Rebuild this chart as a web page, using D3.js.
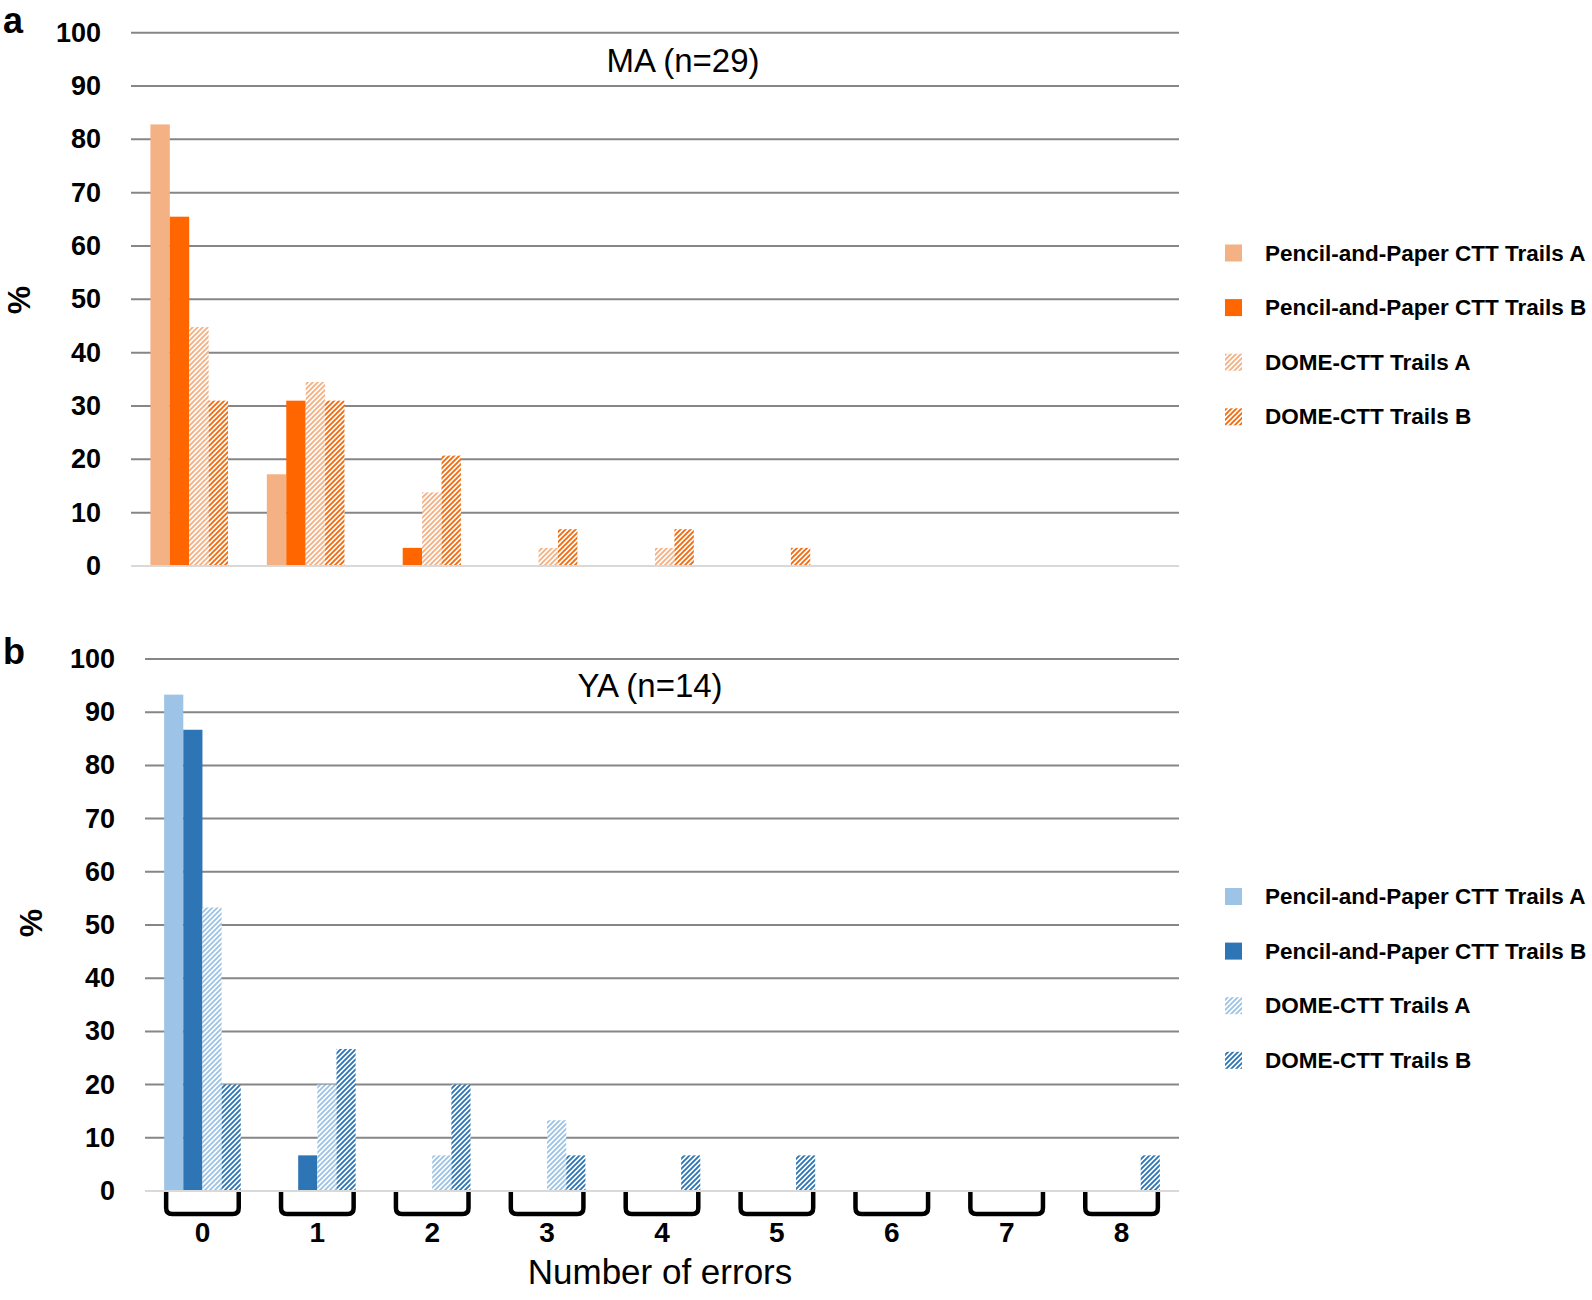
<!DOCTYPE html>
<html><head><meta charset="utf-8">
<script src="https://cdn.jsdelivr.net/npm/d3@7"></script>
<style>body{margin:0;background:#fff} svg{display:block}</style>
</head><body>
<script>
// ---------- DATA ----------
const categories = ["0","1","2","3","4","5","6","7","8"];
const seriesNames = ["Pencil-and-Paper CTT Trails A","Pencil-and-Paper CTT Trails B","DOME-CTT Trails A","DOME-CTT Trails B"];
const yTicks = [0,10,20,30,40,50,60,70,80,90,100];

// MA (n=29)
const maPaperA = [82.8, 17.2, 0, 0, 0, 0, 0, 0, 0];
const maPaperB = [65.5, 31.0, 3.4, 0, 0, 0, 0, 0, 0];
const maDomeA  = [44.8, 34.5, 13.8, 3.4, 3.4, 0, 0, 0, 0];
const maDomeB  = [31.0, 31.0, 20.7, 6.9, 6.9, 3.4, 0, 0, 0];

// YA (n=14)
const yaPaperA = [93.3, 0, 0, 0, 0, 0, 0, 0, 0];
const yaPaperB = [86.7, 6.7, 0, 0, 0, 0, 0, 0, 0];
const yaDomeA  = [53.3, 20.0, 6.7, 13.3, 0, 0, 0, 0, 0];
const yaDomeB  = [20.0, 26.7, 20.0, 6.7, 6.7, 6.7, 0, 0, 6.7];

// ---------- SETUP ----------
const W = 1592, H = 1300;
const svg = d3.select("body").append("svg").attr("width", W).attr("height", H);
const defs = svg.append("defs");
const FONT = "'Liberation Sans', Arial, sans-serif";

function hatch(id, color) {
  const p = defs.append("pattern").attr("id", id)
    .attr("patternUnits", "userSpaceOnUse").attr("width", 5).attr("height", 5);
  p.append("rect").attr("width", 5).attr("height", 5).attr("fill", "#fff");
  p.append("path").attr("d", "M-1,1 L1,-1 M0,5 L5,0 M4,6 L6,4")
    .attr("stroke", color).attr("stroke-width", 1.9);
}
hatch("hLO", "#F4B183");
hatch("hDO", "#F26B0F");
hatch("hLB", "#9DC3E6");
hatch("hDB", "#2E75B6");

const orangeFills = ["#F4B183", "#FF6600", "url(#hLO)", "url(#hDO)"];
const blueFills   = ["#9DC3E6", "#2E75B6", "url(#hLB)", "url(#hDB)"];

function panel(cfg) {
  const g = svg.append("g");
  const x0 = d3.scaleBand().domain(categories).range([cfg.left, cfg.right]);
  const x1 = d3.scaleBand().domain(d3.range(seriesNames.length)).range([0, x0.bandwidth()]).paddingOuter(1);
  const y = d3.scaleLinear().domain([0, 100]).range([cfg.zeroY, cfg.topY]);

  // gridlines
  g.selectAll("line.grid").data(yTicks.filter(t => t > 0)).join("line")
    .attr("x1", cfg.left).attr("x2", cfg.right)
    .attr("y1", d => y(d)).attr("y2", d => y(d))
    .attr("stroke", "#868686").attr("stroke-width", 2);
  // baseline
  g.append("line").attr("x1", cfg.left).attr("x2", cfg.right)
    .attr("y1", y(0)).attr("y2", y(0)).attr("stroke", "#D9D9D9").attr("stroke-width", 2);

  // bars
  cfg.series.forEach((vals, si) => {
    g.append("g").selectAll("rect").data(vals.map((v, i) => ({v, c: categories[i]})).filter(d => d.v > 0))
      .join("rect")
      .attr("x", d => x0(d.c) + x1(si))
      .attr("width", x1.bandwidth())
      .attr("y", d => y(d.v))
      .attr("height", d => y(0) - y(d.v) - 1)
      .attr("fill", cfg.fills[si]);
  });

  // y tick labels
  g.selectAll("text.yt").data(yTicks).join("text")
    .attr("x", cfg.left - 30).attr("y", d => y(d))
    .attr("text-anchor", "end").attr("dominant-baseline", "central")
    .attr("font-family", FONT).attr("font-weight", "bold").attr("font-size", 27)
    .text(d => d);

  // title
  g.append("text").attr("x", cfg.titleX).attr("y", cfg.titleY)
    .attr("text-anchor", "middle").attr("font-family", FONT).attr("font-size", 33)
    .text(cfg.title);

  // % label
  g.append("text").attr("transform", `translate(${cfg.pctX},${cfg.pctY}) rotate(-90)`)
    .attr("text-anchor", "middle").attr("dominant-baseline", "central")
    .attr("font-family", FONT).attr("font-weight", "bold").attr("font-size", 32)
    .text("%");

  // panel letter
  g.append("text").attr("x", 3).attr("y", cfg.letterY)
    .attr("font-family", FONT).attr("font-weight", "bold").attr("font-size", 36)
    .text(cfg.letter);

  // legend
  const lg = g.append("g");
  seriesNames.forEach((name, i) => {
    const cy = cfg.legendY + i * 54.6;
    lg.append("rect").attr("x", 1225).attr("y", cy - 8.5).attr("width", 17).attr("height", 17)
      .attr("fill", cfg.fills[i]);
    lg.append("text").attr("x", 1265).attr("y", cy).attr("dominant-baseline", "central")
      .attr("font-family", FONT).attr("font-weight", "bold").attr("font-size", 22.5)
      .text(name);
  });

  if (cfg.brackets) {
    const y0 = y(0) + 1, depth = 22, r = 6;
    const bg = g.append("g");
    categories.forEach(c => {
      const xl = x0(c) + x1(0) + 2, xr = x0(c) + x1(seriesNames.length - 1) + x1.bandwidth() - 2;
      bg.append("path")
        .attr("d", `M${xl},${y0} V${y0 + depth - r} Q${xl},${y0 + depth} ${xl + r},${y0 + depth} H${xr - r} Q${xr},${y0 + depth} ${xr},${y0 + depth - r} V${y0}`)
        .attr("fill", "none").attr("stroke", "#000").attr("stroke-width", 4.5);
      bg.append("text").attr("x", x0(c) + x0.bandwidth() / 2).attr("y", 1232)
        .attr("text-anchor", "middle").attr("dominant-baseline", "central")
        .attr("font-family", FONT).attr("font-weight", "bold").attr("font-size", 28)
        .text(c);
    });
  }
}

panel({
  left: 131, right: 1179, zeroY: 566, topY: 32.7,
  series: [maPaperA, maPaperB, maDomeA, maDomeB], fills: orangeFills,
  title: "MA (n=29)", titleX: 683, titleY: 72,
  pctX: 19, pctY: 300, letter: "a", letterY: 33,
  legendY: 253, brackets: false
});

panel({
  left: 145, right: 1179, zeroY: 1191, topY: 659,
  series: [yaPaperA, yaPaperB, yaDomeA, yaDomeB], fills: blueFills,
  title: "YA (n=14)", titleX: 650, titleY: 697,
  pctX: 31, pctY: 923, letter: "b", letterY: 664,
  legendY: 896.5, brackets: true
});

svg.append("text").attr("x", 660).attr("y", 1284).attr("text-anchor", "middle")
  .attr("font-family", FONT).attr("font-size", 35).text("Number of errors");
</script>
</body></html>
